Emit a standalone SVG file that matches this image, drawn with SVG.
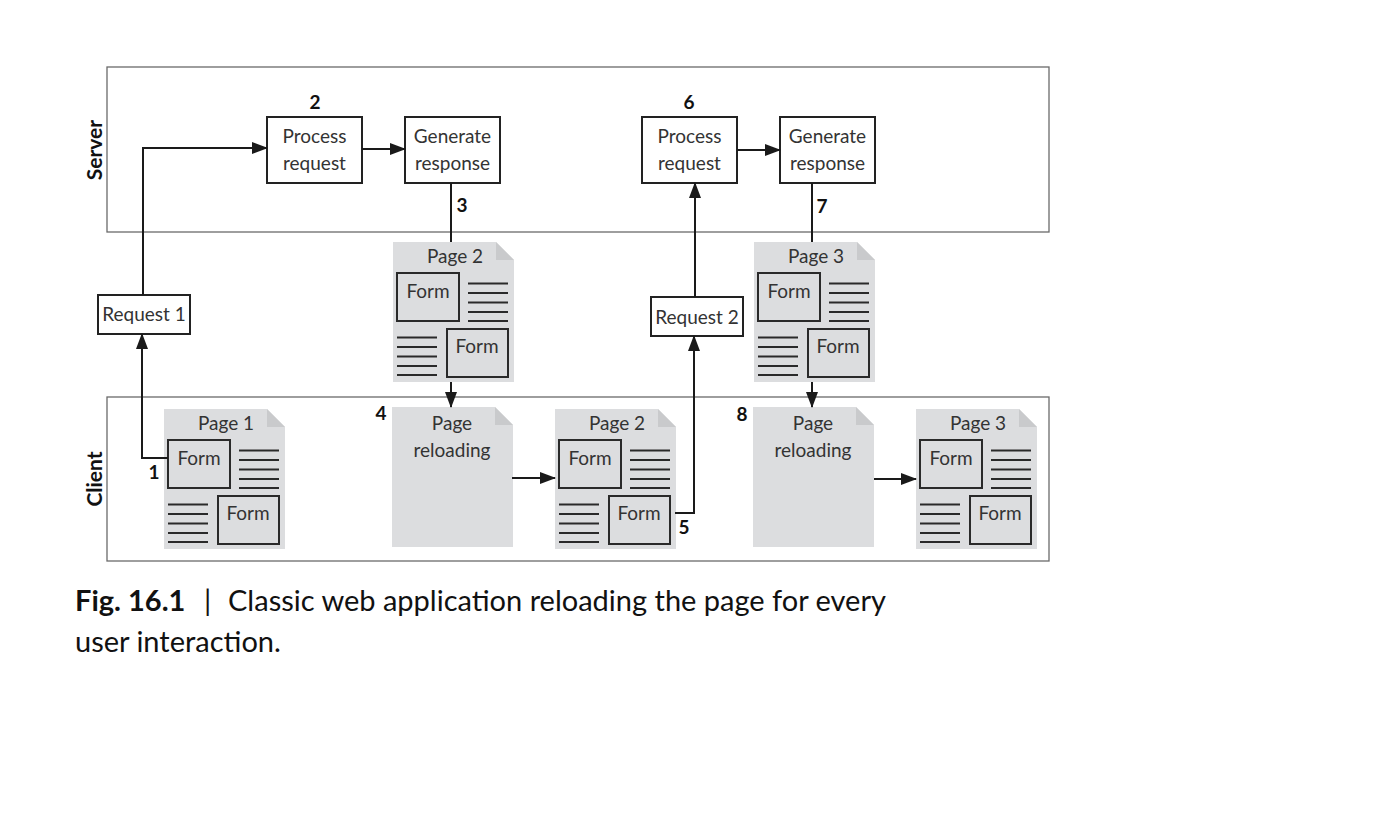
<svg xmlns="http://www.w3.org/2000/svg" xmlns:xlink="http://www.w3.org/1999/xlink" width="1380" height="838" viewBox="0 0 1380 838">
<style>
.lane{fill:none;stroke:#6a6a6a;stroke-width:1.3}
.box{fill:#fff;stroke:#222;stroke-width:2}
.lbl{font-family:Lato,"Open Sans",sans-serif;font-size:19px;fill:#333;text-anchor:middle}
.num{font-family:Lato,"Open Sans",sans-serif;font-size:19px;font-weight:bold;fill:#111;text-anchor:middle}
.lanelbl{font-family:Lato,"Open Sans",sans-serif;font-size:21px;font-weight:bold;fill:#111;text-anchor:middle}
.doc{fill:#dcdddf}
.fold{fill:#c9cacc}
.frm{fill:none;stroke:#2a2a2a;stroke-width:2}
.ln{stroke:#2a2a2a;stroke-width:2}
.con{fill:none;stroke:#1a1a1a;stroke-width:2}
.cap{font-family:Lato,"Open Sans",sans-serif;font-size:29px;fill:#111}
</style>
<defs>
<marker id="ah" markerUnits="userSpaceOnUse" markerWidth="16" markerHeight="12" refX="15" refY="6" orient="auto">
<path d="M0,0 L16,6 L0,12 Z" fill="#1a1a1a"/>
</marker>
<g id="sheet">
<path class="doc" d="M0,0 H103 L121,18 V140 H0 Z"/>
<path class="fold" d="M103,0 L121,18 H103 Z"/>
</g>
<g id="page">
<use xlink:href="#sheet"/>
<rect class="frm" x="4" y="31" width="62" height="48"/>
<rect class="frm" x="54" y="87" width="61" height="48"/>
<path class="ln" d="M75,41.5H115M75,51H115M75,60.5H115M75,70H115M75,79H115"/>
<path class="ln" d="M4,95.5H44M4,105H44M4,114.5H44M4,124H44M4,133H44"/>
</g>
</defs>

<g id="server-lane">
<rect class="lane" x="107" y="67" width="942" height="165"/>
<text class="lanelbl" transform="translate(102,150) rotate(-90)">Server</text>
</g>
<g id="client-lane">
<rect class="lane" x="107" y="397" width="942" height="164"/>
<text class="lanelbl" transform="translate(102,479) rotate(-90)">Client</text>
</g>

<g id="process1">
<rect class="box" x="267" y="117" width="95" height="66"/>
<text class="lbl" x="314.5" y="143">Process</text>
<text class="lbl" x="314.5" y="170">request</text>
<text class="num" x="315" y="109">2</text>
</g>
<g id="generate1">
<rect class="box" x="405" y="117" width="95" height="66"/>
<text class="lbl" x="452.5" y="143">Generate</text>
<text class="lbl" x="452.5" y="170">response</text>
</g>
<g id="process2">
<rect class="box" x="642" y="117" width="95" height="66"/>
<text class="lbl" x="689.5" y="143">Process</text>
<text class="lbl" x="689.5" y="170">request</text>
<text class="num" x="689" y="109">6</text>
</g>
<g id="generate2">
<rect class="box" x="780" y="117" width="95" height="66"/>
<text class="lbl" x="827.5" y="143">Generate</text>
<text class="lbl" x="827.5" y="170">response</text>
</g>

<g id="request1">
<rect class="box" x="98" y="295" width="92" height="39"/>
<text class="lbl" x="144" y="321">Request 1</text>
</g>
<g id="request2">
<rect class="box" x="651" y="297" width="92" height="39"/>
<text class="lbl" x="697" y="324">Request 2</text>
</g>

<g id="server-page2">
<use xlink:href="#page" x="393" y="242"/>
<text class="lbl" x="455" y="263">Page 2</text>
<text class="lbl" x="428" y="298">Form</text>
<text class="lbl" x="477" y="353">Form</text>
</g>
<g id="server-page3">
<use xlink:href="#page" x="754" y="242"/>
<text class="lbl" x="816" y="263">Page 3</text>
<text class="lbl" x="789" y="298">Form</text>
<text class="lbl" x="838" y="353">Form</text>
</g>

<g id="client-page1">
<use xlink:href="#page" x="164" y="409"/>
<text class="lbl" x="226" y="430">Page 1</text>
<text class="lbl" x="199" y="465">Form</text>
<text class="lbl" x="248" y="520">Form</text>
</g>
<g id="reloading1">
<use xlink:href="#sheet" x="392" y="407"/>
<text class="lbl" x="452" y="430">Page</text>
<text class="lbl" x="452" y="457">reloading</text>
<text class="num" x="381" y="420">4</text>
</g>
<g id="client-page2">
<use xlink:href="#page" x="555" y="409"/>
<text class="lbl" x="617" y="430">Page 2</text>
<text class="lbl" x="590" y="465">Form</text>
<text class="lbl" x="639" y="520">Form</text>
</g>
<g id="reloading2">
<use xlink:href="#sheet" x="753" y="407"/>
<text class="lbl" x="813" y="430">Page</text>
<text class="lbl" x="813" y="457">reloading</text>
<text class="num" x="742" y="421">8</text>
</g>
<g id="client-page3">
<use xlink:href="#page" x="916" y="409"/>
<text class="lbl" x="978" y="430">Page 3</text>
<text class="lbl" x="951" y="465">Form</text>
<text class="lbl" x="1000" y="520">Form</text>
</g>

<g id="connectors">
<path class="con" d="M168,458 H142 V334" marker-end="url(#ah)"/>
<path class="con" d="M143,295 V148 H267" marker-end="url(#ah)"/>
<path class="con" d="M362,149 H405" marker-end="url(#ah)"/>
<path class="con" d="M451,183 V242"/>
<path class="con" d="M451,382 V407" marker-end="url(#ah)"/>
<path class="con" d="M512,478 H555" marker-end="url(#ah)"/>
<path class="con" d="M675,513 H694 V336" marker-end="url(#ah)"/>
<path class="con" d="M695,297 V183" marker-end="url(#ah)"/>
<path class="con" d="M737,150 H780" marker-end="url(#ah)"/>
<path class="con" d="M812,183 V242"/>
<path class="con" d="M812,382 V407" marker-end="url(#ah)"/>
<path class="con" d="M874,479 H916" marker-end="url(#ah)"/>
<text class="num" x="154" y="479">1</text>
<text class="num" x="462" y="212">3</text>
<text class="num" x="684" y="534">5</text>
<text class="num" x="822" y="213">7</text>
</g>

<g id="caption">
<text class="cap" x="75" y="611"><tspan font-weight="bold">Fig. 16.1</tspan><tspan x="204">|</tspan><tspan x="228">Classic web application reloading the page for every</tspan></text>
<text class="cap" x="75" y="652">user interaction.</text>
</g>
</svg>
